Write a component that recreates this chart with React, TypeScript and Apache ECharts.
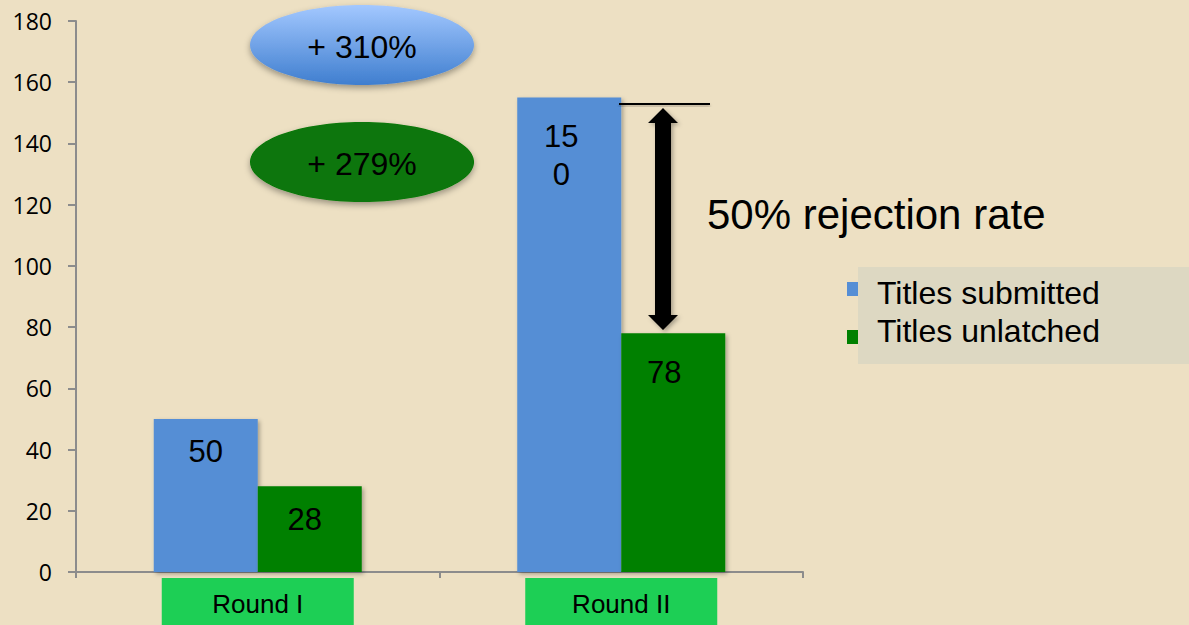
import React, { useEffect, useRef } from "react";
import * as echarts from "echarts";

const categories = ["Round I", "Round II"];
const submitted = [50, 155];
const submittedLabels = ["50", "150"];
const unlatched = [28, 78];
const unlatchedLabels = ["28", "78"];
const seriesNames = ["Titles submitted", "Titles unlatched"];
const growthTexts = ["+ 310%", "+ 279%"];
const rejectionText = "50% rejection rate";
const yTicks = { min: 0, max: 180, interval: 20 };

const BG = "#EDE0C3";
const BLUE = "#558ED5";
const GREEN = "#008000";
const FONT = "Liberation Sans, Arial, sans-serif";

export default function App() {
  const ref = useRef<HTMLDivElement>(null);

  useEffect(() => {
    document.body.style.margin = "0";
    const chart = echarts.init(ref.current!, null, { renderer: "svg" });
    const shadow = {
      shadowBlur: 4,
      shadowColor: "rgba(0,0,0,0.3)",
      shadowOffsetX: 2,
      shadowOffsetY: 2,
    };
    const legendText = (padding: number[]) => ({
      fontSize: 32,
      color: "#000",
      fontFamily: FONT,
      padding: [0, 0, 0, 14],
      rich: {
        a: {
          fontSize: 32,
          lineHeight: 36,
          color: "#000",
          fontFamily: FONT,
          padding,
        },
      },
    });

    chart.setOption({
      animation: false,
      backgroundColor: BG,
      textStyle: { fontFamily: FONT },
      grid: { left: 76, right: 386, top: 21, bottom: 53 },
      legend: [
        {
          left: 842,
          top: 264,
          itemWidth: 11,
          itemHeight: 14,
          icon: "rect",
          data: [seriesNames[0]],
          formatter: "{a|{name}}",
          textStyle: legendText([8, 0, 0, 0]),
          z: 5,
        },
        {
          left: 842,
          top: 310,
          itemWidth: 11,
          itemHeight: 14,
          icon: "rect",
          data: [seriesNames[1]],
          formatter: "{a|{name}}",
          textStyle: legendText([0, 0, 12, 0]),
          z: 5,
        },
      ],
      xAxis: {
        type: "category",
        data: categories,
        axisLine: { lineStyle: { color: "#8C8C8C", width: 2 } },
        axisTick: { show: true, length: 6, lineStyle: { color: "#8C8C8C", width: 2 } },
        axisLabel: {
          margin: 6,
          color: "#000",
          fontSize: 26,
          fontFamily: FONT,
          backgroundColor: "#1DCF55",
          width: 192,
          align: "center",
          lineHeight: 43,
          padding: [4, 0, 0, 0],
        },
      },
      yAxis: {
        type: "value",
        min: yTicks.min,
        max: yTicks.max,
        interval: yTicks.interval,
        splitLine: { show: false },
        axisLine: { show: true, lineStyle: { color: "#8C8C8C", width: 2 } },
        axisTick: { show: true, length: 8, lineStyle: { color: "#8C8C8C", width: 2 } },
        axisLabel: { margin: 24, color: "#000", fontSize: 23, fontFamily: "Open Sans, sans-serif" },
      },
      series: [
        {
          name: seriesNames[0],
          type: "bar",
          barWidth: 104,
          barGap: "0%",
          itemStyle: { color: BLUE, ...shadow },
          label: {
            show: true,
            position: "insideTop",
            fontSize: 31,
            color: "#000",
            fontFamily: FONT,
            formatter: (p: any) => submittedLabels[p.dataIndex],
          },
          data: submitted.map((v, i) => ({
            value: v,
            label:
              i === 0
                ? { distance: 16, lineHeight: 34 }
                : { distance: 20, lineHeight: 38, width: 40, overflow: "breakAll", offset: [-8, 0] },
          })),
        },
        {
          name: seriesNames[1],
          type: "bar",
          barWidth: 104,
          barGap: "0%",
          itemStyle: { color: GREEN, ...shadow },
          label: {
            show: true,
            position: "insideTop",
            fontSize: 31,
            color: "#000",
            fontFamily: FONT,
            formatter: (p: any) => unlatchedLabels[p.dataIndex],
          },
          data: unlatched.map((v, i) => ({
            value: v,
            label:
              i === 0
                ? { distance: 16, lineHeight: 34, offset: [-5, 0] }
                : { distance: 20, lineHeight: 38, offset: [-9, 0] },
          })),
        },
      ],
      graphic: [
        {
          type: "rect",
          shape: { x: 858, y: 267, width: 331, height: 97 },
          style: { fill: "#DDD8C2" },
          z: 1,
        },
        {
          type: "ellipse",
          shape: { cx: 362, cy: 45, rx: 112, ry: 40 },
          style: {
            fill: {
              type: "linear",
              x: 0,
              y: 0,
              x2: 0,
              y2: 1,
              colorStops: [
                { offset: 0, color: "#A3C8FF" },
                { offset: 1, color: "#3F7ECF" },
              ],
            },
            shadowBlur: 6,
            shadowOffsetY: 3,
            shadowColor: "rgba(0,0,0,0.35)",
          },
          z: 10,
        },
        {
          type: "text",
          x: 362,
          y: 47,
          style: {
            text: growthTexts[0],
            fontSize: 32,
            fontFamily: FONT,
            fill: "#000",
            align: "center",
            verticalAlign: "middle",
          },
          z: 11,
        },
        {
          type: "ellipse",
          shape: { cx: 362, cy: 162, rx: 112, ry: 40 },
          style: {
            fill: "#077607",
            shadowBlur: 6,
            shadowOffsetY: 3,
            shadowColor: "rgba(0,0,0,0.35)",
          },
          z: 10,
        },
        {
          type: "text",
          x: 362,
          y: 164,
          style: {
            text: growthTexts[1],
            fontSize: 32,
            fontFamily: FONT,
            fill: "#000",
            align: "center",
            verticalAlign: "middle",
          },
          z: 11,
        },
        {
          type: "rect",
          shape: { x: 619, y: 103, width: 91, height: 2 },
          style: {
            fill: "#000",
            shadowBlur: 3,
            shadowOffsetY: 2,
            shadowColor: "rgba(0,0,0,0.3)",
          },
          z: 10,
        },
        {
          type: "polygon",
          shape: {
            points: [
              [663, 108],
              [678, 123],
              [671, 123],
              [671, 315],
              [678, 315],
              [663, 330],
              [648, 315],
              [655, 315],
              [655, 123],
              [648, 123],
            ],
          },
          style: {
            fill: "#000",
            shadowBlur: 4,
            shadowOffsetX: 2,
            shadowOffsetY: 2,
            shadowColor: "rgba(0,0,0,0.3)",
          },
          z: 10,
        },
        {
          type: "text",
          x: 707,
          y: 214,
          style: {
            text: rejectionText,
            fontSize: 42,
            fontFamily: FONT,
            fill: "#000",
            align: "left",
            verticalAlign: "middle",
          },
          z: 10,
        },
      ],
    });
    return () => chart.dispose();
  }, []);

  return (
    <div
      ref={ref}
      style={{ position: "fixed", left: 0, top: 0, width: 1189, height: 625 }}
    />
  );
}
